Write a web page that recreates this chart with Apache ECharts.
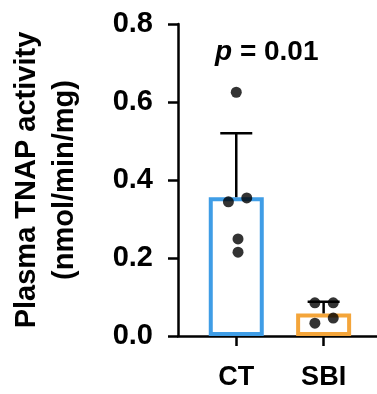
<!DOCTYPE html>
<html>
<head>
<meta charset="utf-8">
<script src="https://cdn.jsdelivr.net/npm/echarts@6/dist/echarts.min.js"></script>
<style>
  html, body { margin: 0; padding: 0; background: #fff; }
  #chart { width: 377px; height: 394px; }
</style>
</head>
<body>
<div id="chart"></div>
<script>
// groups and their position on the x value axis
var groups = ['CT', 'SBI']
var groupX = [0, 1]
var barColors = ['#3f9de6', '#f4a53a']

// bar heights (mean) and the upper error (SD)
var means = [0.356, 0.058]
var errs = [0.164, 0.03]

// individual points: group index, jitter offset, value
var ptGroup = [0, 0, 0, 0, 0, 1, 1, 1, 1]
var ptJitter = [0, -0.09, 0.12, 0.02, 0.02, -0.1, 0.11, -0.1, 0.11]
var ptValue = [0.625, 0.344, 0.354, 0.249, 0.215, 0.085, 0.085, 0.033, 0.046]

var font = '"Liberation Sans", Arial, sans-serif'

var chart = echarts.init(document.getElementById('chart'))

var barData = groupX.map(function (x, i) {
  return { value: [x, means[i]], itemStyle: { color: '#fff', borderColor: barColors[i], borderWidth: 4 } }
})
var errData = groupX.map(function (x, i) {
  return [x, means[i], means[i] + errs[i]]
})
var ptData = ptValue.map(function (v, i) {
  return [groupX[ptGroup[i]] + ptJitter[i], v]
})

chart.setOption({
  animation: false,
  title: {
    text: '{i|p} = 0.01',
    left: 210,
    top: 33,
    textStyle: {
      fontFamily: font,
      fontSize: 28,
      fontWeight: 'bold',
      color: '#000',
      rich: {
        i: { fontFamily: font, fontSize: 28, fontWeight: 'bold', fontStyle: 'italic', color: '#000' }
      }
    }
  },
  grid: { left: 172, right: 0, top: 24, bottom: 58, containLabel: false },
  xAxis: {
    type: 'value',
    min: -0.667,
    max: 1.611,
    splitLine: { show: false },
    axisLine: { onZero: false, lineStyle: { color: '#000', width: 2.5 } },
    axisTick: { customValues: groupX, length: 10, lineStyle: { color: '#000', width: 2.5 } },
    axisLabel: {
      customValues: groupX,
      formatter: function (v) { return groups[groupX.indexOf(v)] },
      margin: 28,
      fontFamily: font,
      fontSize: 27,
      fontWeight: 'bold',
      color: '#000'
    }
  },
  yAxis: {
    type: 'value',
    min: 0,
    max: 0.8,
    interval: 0.2,
    name: 'Plasma TNAP activity\n(nmol/min/mg)',
    nameLocation: 'middle',
    nameGap: 94,
    nameTextStyle: { fontFamily: font, fontSize: 29, fontWeight: 'bold', color: '#000', lineHeight: 38 },
    splitLine: { show: false },
    axisLine: { show: true, onZero: false, lineStyle: { color: '#000', width: 2.5 } },
    axisTick: { show: true, length: 10, lineStyle: { color: '#000', width: 2.5 } },
    axisLabel: {
      margin: 25,
      fontFamily: font,
      fontSize: 29,
      fontWeight: 'bold',
      color: '#000',
      formatter: function (v) { return v.toFixed(1) }
    }
  },
  series: [
    {
      type: 'bar',
      data: barData,
      barWidth: 55,
      z: 1
    },
    {
      type: 'custom',
      data: errData,
      z: 2,
      renderItem: function (params, api) {
        var base = api.coord([api.value(0), api.value(1)])
        var top = api.coord([api.value(0), api.value(2)])
        var half = 16
        return {
          type: 'group',
          children: [
            { type: 'line', shape: { x1: base[0], y1: base[1], x2: top[0], y2: top[1] }, style: { stroke: '#000', lineWidth: 2.5 } },
            { type: 'line', shape: { x1: top[0] - half, y1: top[1], x2: top[0] + half, y2: top[1] }, style: { stroke: '#000', lineWidth: 2.5 } }
          ]
        }
      }
    },
    {
      type: 'scatter',
      data: ptData,
      symbolSize: 11,
      itemStyle: { color: '#000' },
      z: 3
    }
  ]
})
</script>
</body>
</html>
